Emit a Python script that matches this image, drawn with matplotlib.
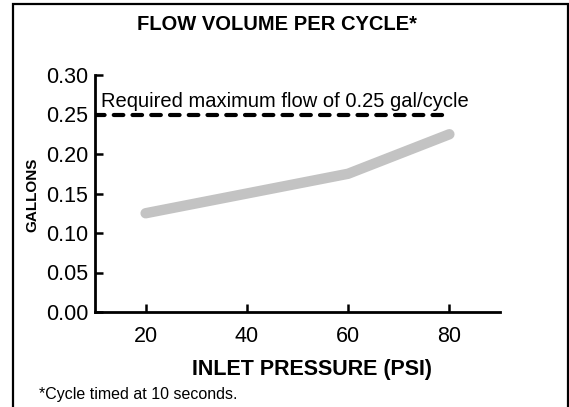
import matplotlib
matplotlib.use("Agg")
import matplotlib.pyplot as plt
from matplotlib.patches import Rectangle

plt.rcParams['font.family'] = ['Liberation Sans', 'DejaVu Sans']

pressure = [20, 40, 60, 80]
gallons = [0.125, 0.150, 0.175, 0.225]
required_max = 0.25
xticks = [20, 40, 60, 80]
yticks = [0.00, 0.05, 0.10, 0.15, 0.20, 0.25, 0.30]

fig = plt.figure(figsize=(5.69, 4.07), dpi=100)
ax = fig.add_axes([95/569, 1 - 312/407, (500-95)/569, (312-75)/407])

ax.plot(pressure, gallons, color='#c3c3c3', lw=7.5, solid_capstyle='round', zorder=2)
ax.plot([10, 80], [required_max, required_max], color='black', lw=3.0,
        dashes=(2.3, 2.2), dash_capstyle='round', zorder=3)
ax.text(11.2, required_max + 0.004, 'Required maximum flow of 0.25 gal/cycle',
        fontsize=14.5, va='bottom', ha='left')

ax.set_xlim(10, 90)
ax.set_ylim(0, 0.30)
ax.set_xticks(xticks)
ax.set_xticklabels([str(x) for x in xticks])
ax.set_yticks(yticks)
ax.set_yticklabels([f'{y:.2f}' for y in yticks])
ax.tick_params(direction='in', length=6, width=1.8, labelsize=15.5, pad=5)
ax.tick_params(axis='x', pad=10)
for s in ['top', 'right']:
    ax.spines[s].set_visible(False)
for s in ['left', 'bottom']:
    ax.spines[s].set_linewidth(2.0)

fig.text(277/569, 1 - 25/407, 'FLOW VOLUME PER CYCLE*', fontsize=14.5,
         fontweight='bold', ha='center', va='center')
fig.text(312/569, 1 - 369/407, 'INLET PRESSURE (PSI)', fontsize=15.5,
         fontweight='bold', ha='center', va='center')
fig.text(32/569, 1 - 195/407, 'GALLONS', fontsize=11, fontweight='bold',
         rotation=90, ha='center', va='center')
fig.text(39/569, 1 - 395/407, '*Cycle timed at 10 seconds.', fontsize=11.5,
         ha='left', va='center')

fig.add_artist(Rectangle((13/569, -0.05), (567.5-13)/569, 1.05 - 4/407,
                         transform=fig.transFigure, fill=False,
                         edgecolor='black', lw=1.6))

fig.savefig('out.png', dpi=100)
